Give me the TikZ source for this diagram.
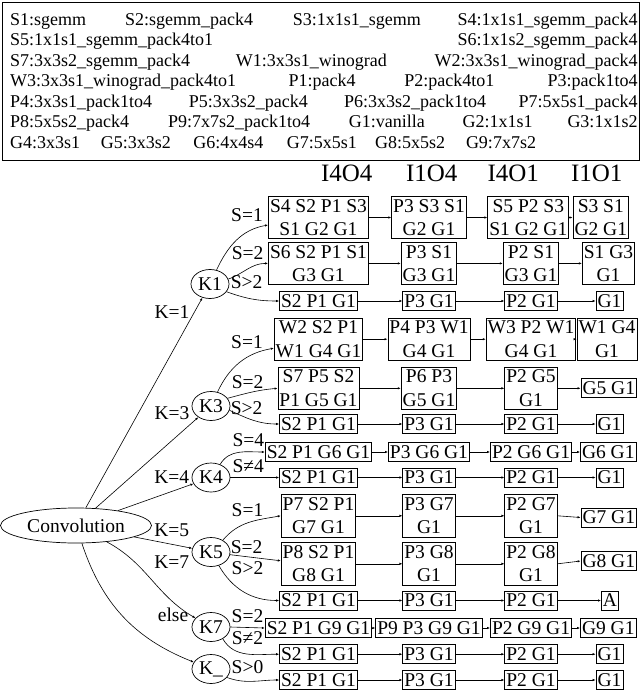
\documentclass[tikz,border=0pt]{standalone}
\usepackage{fontspec}
\setmainfont{Liberation Serif}
\usetikzlibrary{shapes.geometric,arrows.meta}
\newcommand\treefont{\fontsize{19.5}{23.4}\selectfont}
\newcommand\legfont{\fontsize{18}{21}\selectfont}
\newcommand\hdrfont{\fontsize{25}{30}\selectfont}
\tikzset{
  kbox/.style={draw, line width=0.8pt, inner xsep=1.5pt, inner ysep=3pt, align=center, font=\treefont},
  dec/.style={draw, ellipse, line width=0.7pt, inner sep=1pt, minimum width=38pt, minimum height=29pt, font=\treefont},
  lab/.style={font=\treefont, inner sep=0pt},
  leg/.style={font=\legfont, inner sep=0pt},
  hdr/.style={font=\hdrfont, inner sep=0pt, anchor=base},
  link/.style={line width=0.6pt, -{Latex[length=3pt,width=2.4pt]}},
}
\begin{document}
\begin{tikzpicture}[x=1pt,y=1pt]
\useasboundingbox (0,0) rectangle (642,-696);

% legend
\draw[line width=1.2pt] (2.5,-2.5) rectangle (639.5,-160.5);
\node[leg,anchor=base west] (l1) at (10,-25) {S1:sgemm};
\node[leg,anchor=base] (l2) at (189.2,-25) {S2:sgemm\_pack4};
\node[leg,anchor=base] (l3) at (356.8,-25) {S3:1x1s1\_sgemm};
\node[leg,anchor=base east] (l4) at (637.7,-25) {S4:1x1s1\_sgemm\_pack4};
\node[leg,anchor=base west] (l5) at (10,-45.5) {S5:1x1s1\_sgemm\_pack4to1};
\node[leg,anchor=base east] (l6) at (637.7,-45.5) {S6:1x1s2\_sgemm\_pack4};
\node[leg,anchor=base west] (l7) at (10,-66) {S7:3x3s2\_sgemm\_pack4};
\node[leg,anchor=base] (l8) at (311.3,-66) {W1:3x3s1\_winograd};
\node[leg,anchor=base east] (l9) at (637.7,-66) {W2:3x3s1\_winograd\_pack4};
\node[leg,anchor=base west] (l10) at (10,-86.5) {W3:3x3s1\_winograd\_pack4to1};
\node[leg,anchor=base] (l11) at (322.2,-86.5) {P1:pack4};
\node[leg,anchor=base] (l12) at (449.3,-86.5) {P2:pack4to1};
\node[leg,anchor=base east] (l13) at (637.7,-86.5) {P3:pack1to4};
\node[leg,anchor=base west] (l14) at (10,-107) {P4:3x3s1\_pack1to4};
\node[leg,anchor=base] (l15) at (248.3,-107) {P5:3x3s2\_pack4};
\node[leg,anchor=base] (l16) at (415.2,-107) {P6:3x3s2\_pack1to4};
\node[leg,anchor=base east] (l17) at (637.7,-107) {P7:5x5s1\_pack4};
\node[leg,anchor=base west] (l18) at (10,-127.5) {P8:5x5s2\_pack4};
\node[leg,anchor=base] (l19) at (239.2,-127.5) {P9:7x7s2\_pack1to4};
\node[leg,anchor=base] (l20) at (386.8,-127.5) {G1:vanilla};
\node[leg,anchor=base] (l21) at (497.7,-127.5) {G2:1x1s1};
\node[leg,anchor=base east] (l22) at (637.7,-127.5) {G3:1x1s2};
\node[leg,anchor=base west] (l23) at (10,-148) {G4:3x3s1};
\node[leg,anchor=base] (l24) at (135.8,-148) {G5:3x3s2};
\node[leg,anchor=base] (l25) at (228.3,-148) {G6:4x4s4};
\node[leg,anchor=base] (l26) at (321.8,-148) {G7:5x5s1};
\node[leg,anchor=base] (l27) at (410.2,-148) {G8:5x5s2};
\node[leg,anchor=base] (l28) at (501,-148) {G9:7x7s2};

% column headers
\node[hdr] (h1) at (346.7,-181.7) {I4O4};
\node[hdr] (h2) at (431.7,-181.7) {I1O4};
\node[hdr] (h3) at (513.3,-181.7) {I4O1};
\node[hdr] (h4) at (596.7,-181.7) {I1O1};

% decision nodes
\node[draw, ellipse, line width=0.7pt, minimum width=151pt, minimum height=35pt, inner sep=0pt, font=\treefont] (conv) at (76,-525.5) {Convolution};
\node[dec] (k1) at (210,-284) {K1};
\node[dec] (k3) at (211,-406) {K3};
\node[dec] (k4) at (211,-477.5) {K4};
\node[dec] (k5) at (211,-552) {K5};
\node[dec] (k7) at (211,-627) {K7};
\node[dec] (kx) at (211,-669) {K\_};

% kernel boxes, one row per case
\node[kbox] (r1a) at (318.5,-217.5) {S4 S2 P1 S3\\S1 G2 G1};
\node[kbox] (r1b) at (429,-217.5) {P3 S3 S1\\G2 G1};
\node[kbox] (r1c) at (528.3,-217.5) {S5 P2 S3\\S1 G2 G1};
\node[kbox] (r1d) at (600.8,-217.5) {S3 S1\\G2 G1};

\node[kbox] (r2a) at (318.5,-263.4) {S6 S2 P1 S1\\G3 G1};
\node[kbox] (r2b) at (429,-263.4) {P3 S1\\G3 G1};
\node[kbox] (r2c) at (531,-263.4) {P2 S1\\G3 G1};
\node[kbox] (r2d) at (608.5,-263.4) {S1 G3\\G1};

\node[kbox] (r3a) at (318.5,-301) {S2 P1 G1};
\node[kbox] (r3b) at (429,-301) {P3 G1};
\node[kbox] (r3c) at (531,-301) {P2 G1};
\node[kbox] (r3d) at (609.5,-301) {G1};

\node[kbox] (r4a) at (318.5,-339.2) {W2 S2 P1\\W1 G4 G1};
\node[kbox] (r4b) at (429,-339.2) {P4 P3 W1\\G4 G1};
\node[kbox] (r4c) at (531,-339.2) {W3 P2 W1\\G4 G1};
\node[kbox] (r4d) at (607,-339.2) {W1 G4\\G1};

\node[kbox] (r5a) at (318.5,-388.3) {S7 P5 S2\\P1 G5 G1};
\node[kbox] (r5b) at (429,-388.3) {P6 P3\\G5 G1};
\node[kbox] (r5c) at (531,-388.3) {P2 G5\\G1};
\node[kbox] (r5d) at (608.8,-388.3) {G5 G1};

\node[kbox] (r6a) at (318.5,-424) {S2 P1 G1};
\node[kbox] (r6b) at (429,-424) {P3 G1};
\node[kbox] (r6c) at (531,-424) {P2 G1};
\node[kbox] (r6d) at (609.5,-424) {G1};

\node[kbox] (r7a) at (318.5,-452) {S2 P1 G6 G1};
\node[kbox] (r7b) at (429,-452) {P3 G6 G1};
\node[kbox] (r7c) at (531,-452) {P2 G6 G1};
\node[kbox] (r7d) at (608.3,-452) {G6 G1};

\node[kbox] (r8a) at (318.5,-477.5) {S2 P1 G1};
\node[kbox] (r8b) at (429,-477.5) {P3 G1};
\node[kbox] (r8c) at (531,-477.5) {P2 G1};
\node[kbox] (r8d) at (609.5,-477.5) {G1};

\node[kbox] (r9a) at (318.5,-515.8) {P7 S2 P1\\G7 G1};
\node[kbox] (r9b) at (429,-515.8) {P3 G7\\G1};
\node[kbox] (r9c) at (531,-515.8) {P2 G7\\G1};
\node[kbox] (r9d) at (608.8,-517.5) {G7 G1};

\node[kbox] (r10a) at (318.5,-563.8) {P8 S2 P1\\G8 G1};
\node[kbox] (r10b) at (429,-563.8) {P3 G8\\G1};
\node[kbox] (r10c) at (531,-563.8) {P2 G8\\G1};
\node[kbox] (r10d) at (608.8,-561) {G8 G1};

\node[kbox] (r11a) at (318.5,-600.5) {S2 P1 G1};
\node[kbox] (r11b) at (429,-600.5) {P3 G1};
\node[kbox] (r11c) at (531,-600.5) {P2 G1};
\node[kbox] (r11d) at (610,-600.5) {A};

\node[kbox] (r12a) at (318.5,-628) {S2 P1 G9 G1};
\node[kbox] (r12b) at (429,-628) {P9 P3 G9 G1};
\node[kbox] (r12c) at (531,-628) {P2 G9 G1};
\node[kbox] (r12d) at (608.3,-628) {G9 G1};

\node[kbox] (r13a) at (318.5,-654.2) {S2 P1 G1};
\node[kbox] (r13b) at (429,-654.2) {P3 G1};
\node[kbox] (r13c) at (531,-654.2) {P2 G1};
\node[kbox] (r13d) at (609.5,-654.2) {G1};

\node[kbox] (r14a) at (318.5,-680) {S2 P1 G1};
\node[kbox] (r14b) at (429,-680) {P3 G1};
\node[kbox] (r14c) at (531,-680) {P2 G1};
\node[kbox] (r14d) at (609.5,-680) {G1};

% chains along each row
\foreach \r in {1,...,14}{
  \draw[link] (r\r a.east) -- (r\r b.west);
  \draw[link] (r\r b.east) -- (r\r c.west);
  \draw[link] (r\r c.east) -- (r\r d.west);
}

% kernel size branches
\draw[link] (conv) -- (k1);
\draw[link] (conv) -- (k3);
\draw[link] (conv) -- (k4);
\draw[link] (conv) -- (k5);
\draw[link] (conv) to[out=-28,in=150] (k7);
\draw[link] (conv) to[bend right=25] (kx);

\node[lab] (tk1) at (172,-312.5) {K=1};
\node[lab] (tk3) at (172,-413) {K=3};
\node[lab] (tk4) at (171.7,-476.7) {K=4};
\node[lab] (tk5) at (171.7,-530) {K=5};
\node[lab] (tk7) at (171.7,-561.7) {K=7};
\node[lab] (tke) at (173,-615) {else};

% stride branches
\draw[link] (k1.65) to[out=65,in=190] ([yshift=-7.5pt]r1a.west);
\draw[link] (k1.15) to[out=20,in=180] (r2a.west);
\draw[link] (k1.-25) to[out=-20,in=180] (r3a.west);
\draw[link] (k3.65) to[out=65,in=190] ([yshift=-9pt]r4a.west);
\draw[link] (k3.25) to[out=15,in=185] (r5a.west);
\draw[link] (k3.-13) to[out=-25,in=180] (r6a.west);
\draw[link] (k4.55) to[out=60,in=180] (r7a.west);
\draw[link] (k4.east) -- (r8a.west);
\draw[link] (k5.45) to[out=50,in=190] (r9a.west);
\draw[link] (k5.-8) -- ([yshift=3pt]r10a.west);
\draw[link] (k5.-60) to[out=-60,in=180] (r11a.west);
\draw[link] (k7.east) -- (r12a.west);
\draw[link] (k7.-45) to[out=-60,in=180] (r13a.west);
\draw[link] (kx.-28) to[out=-20,in=180] (r14a.west);

\node[lab] (s11) at (247,-215) {S=1};
\node[lab] (s12) at (247.7,-253.3) {S=2};
\node[lab] (s13) at (246.7,-281.7) {S>2};
\node[lab] (s31) at (247,-341.7) {S=1};
\node[lab] (s32) at (247.7,-382) {S=2};
\node[lab] (s33) at (246.7,-408) {S>2};
\node[lab] (s41) at (248.3,-440) {S=4};
\node[lab] (s42) at (248.3,-466) {S≠4};
\node[lab] (s51) at (247.5,-510) {S=1};
\node[lab] (s52) at (246.7,-546.7) {S=2};
\node[lab] (s53) at (247.5,-568.3) {S>2};
\node[lab] (s71) at (247.5,-615.8) {S=2};
\node[lab] (s72) at (247.5,-638.3) {S≠2};
\node[lab] (sx1) at (247.5,-666.7) {S>0};
\end{tikzpicture}
\end{document}
